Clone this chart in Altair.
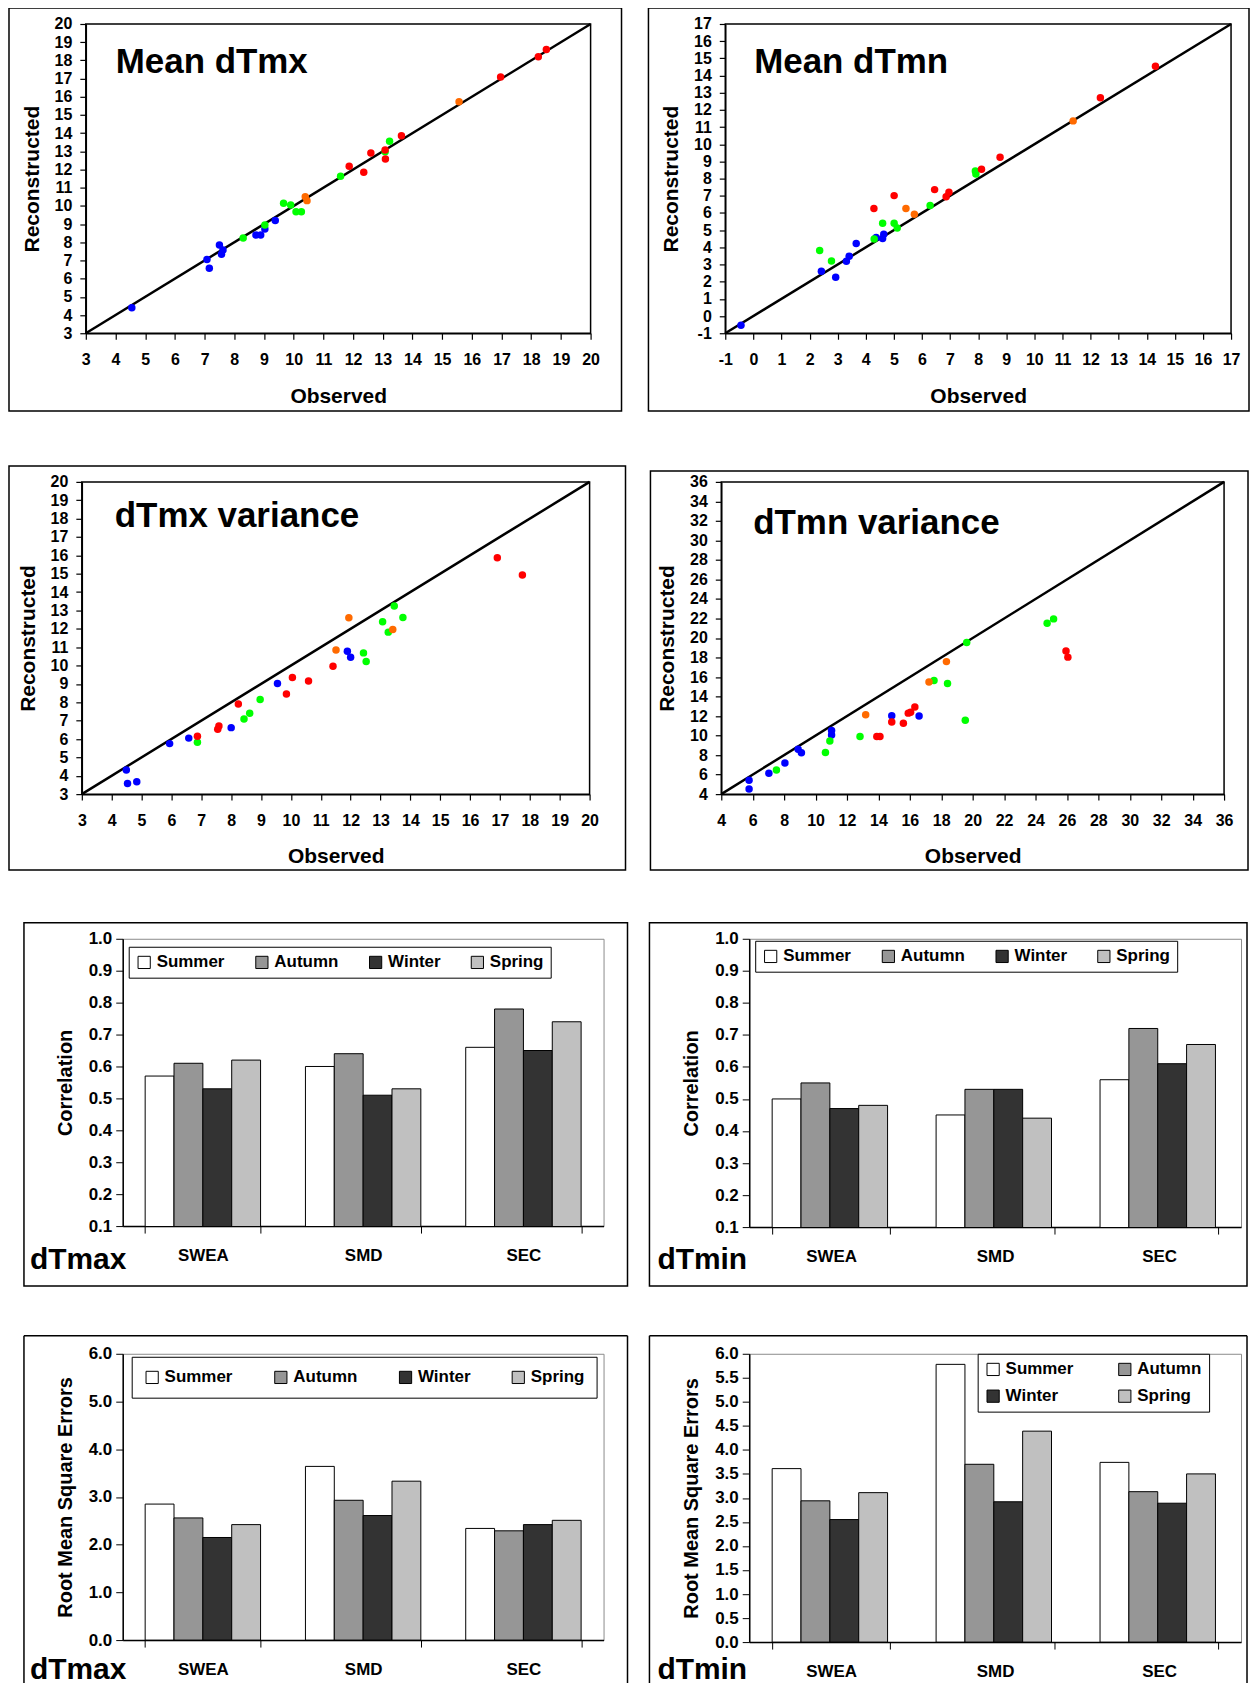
import altair as alt
import pandas as pd

FONT = "Liberation Sans"

GROUPS = ["B", "G", "O", "R"]
GROUP_COLORS = ["#0000FF", "#00FF00", "#FF6A00", "#FF0000"]

# ---------------- scatter data ----------------
# Mean dTmx
mx_obs = [4.55, 7.08, 7.16, 7.50, 7.57, 7.62, 8.73, 8.89, 9.03, 9.38,
          8.30, 9.03, 9.66, 9.90, 10.08, 10.26, 11.58, 13.08, 13.23,
          10.39, 10.45, 15.57,
          11.87, 12.36, 12.60, 13.08, 13.09, 13.63, 16.97, 18.24, 18.51]
mx_rec = [4.40, 7.05, 6.57, 7.85, 7.34, 7.58, 8.40, 8.40, 8.73, 9.20,
          8.24, 8.95, 10.14, 10.05, 9.68, 9.68, 11.63, 12.98, 13.55,
          10.51, 10.29, 15.73,
          12.18, 11.85, 12.91, 13.07, 12.58, 13.86, 17.08, 18.20, 18.60]
mx_grp = list("BBBBBBBBBBGGGGGGGGGOOORRRRRRRRR")

# Mean dTmn
mn_obs = [-0.44, 2.42, 2.93, 3.31, 3.41, 3.66, 4.37, 4.60, 4.64,
          2.36, 2.78, 4.30, 4.60, 5.01, 5.12, 6.29, 7.90, 7.92,
          5.43, 5.73, 11.38,
          4.29, 5.01, 6.45, 6.86, 6.96, 8.12, 8.78, 12.35, 14.31]
mn_rec = [-0.53, 2.61, 2.26, 3.19, 3.48, 4.22, 4.57, 4.51, 4.76,
          3.81, 3.21, 4.49, 5.40, 5.40, 5.13, 6.43, 8.45, 8.27,
          6.26, 5.93, 11.36,
          6.26, 7.01, 7.36, 6.95, 7.21, 8.55, 9.24, 12.71, 14.54]
mn_grp = list("BBBBBBBBBGGGGGGGGGOOORRRRRRRRR")

# dTmx variance
vx_obs = [4.49, 4.53, 4.84, 5.94, 6.58, 8.00, 9.55, 11.89, 12.00,
          6.87, 8.43, 8.62, 8.97, 12.43, 12.52, 13.07, 13.26, 13.46, 13.75,
          11.51, 11.94, 13.41,
          6.87, 7.55, 7.59, 8.24, 9.85, 10.05, 10.59, 11.41, 16.91, 17.75]
vx_rec = [4.31, 3.58, 3.67, 5.75, 6.05, 6.62, 9.02, 10.78, 10.45,
          5.82, 7.09, 7.40, 8.15, 10.69, 10.22, 12.38, 11.82, 13.24, 12.62,
          10.85, 12.60, 11.96,
          6.15, 6.53, 6.71, 7.91, 8.45, 9.35, 9.16, 9.96, 15.87, 14.93]
vx_grp = list("BBBBBBBBBGGGGGGGGGGOOORRRRRRRRRR")

# dTmn variance
vn_obs = [5.77, 5.77, 7.03, 8.05, 8.89, 9.10, 11.02, 11.02, 14.85, 16.59,
          7.51, 10.63, 10.91, 12.83, 17.54, 18.40, 19.53, 19.62, 24.74, 25.15,
          13.19, 17.22, 18.33,
          13.90, 14.10, 14.85, 15.59, 15.90, 16.05, 16.32, 25.94, 26.06]
vn_rec = [5.42, 4.52, 6.15, 7.20, 8.59, 8.24, 10.53, 10.05, 12.04, 12.00,
          6.47, 8.27, 9.45, 9.90, 15.64, 15.33, 11.58, 19.53, 21.51, 21.96,
          12.14, 15.50, 17.58,
          9.90, 9.90, 11.40, 11.26, 12.30, 12.40, 12.92, 18.66, 18.04]
vn_grp = list("BBBBBBBBBBGGGGGGGGGGOOORRRRRRRRR")

# ---------------- bar data ----------------
regions = ["SWEA", "SMD", "SEC"]
seasons = ["Summer", "Autumn", "Winter", "Spring"]
season_colors = ["#FFFFFF", "#969696", "#333333", "#C0C0C0"]

corr_max_summer = [0.57, 0.60, 0.66]
corr_max_autumn = [0.61, 0.64, 0.78]
corr_max_winter = [0.53, 0.51, 0.65]
corr_max_spring = [0.62, 0.53, 0.74]

corr_min_summer = [0.50, 0.45, 0.56]
corr_min_autumn = [0.55, 0.53, 0.72]
corr_min_winter = [0.47, 0.53, 0.61]
corr_min_spring = [0.48, 0.44, 0.67]

rmse_max_summer = [2.85, 3.64, 2.34]
rmse_max_autumn = [2.56, 2.93, 2.29]
rmse_max_winter = [2.15, 2.61, 2.42]
rmse_max_spring = [2.42, 3.33, 2.51]

rmse_min_summer = [3.61, 5.78, 3.74]
rmse_min_autumn = [2.94, 3.70, 3.13]
rmse_min_winter = [2.55, 2.92, 2.89]
rmse_min_spring = [3.11, 4.39, 3.50]

corr_ticks = [0.1, 0.2, 0.3, 0.4, 0.5, 0.6, 0.7, 0.8, 0.9, 1.0]
rmse_max_ticks = [0.0, 1.0, 2.0, 3.0, 4.0, 5.0, 6.0]
rmse_min_ticks = [0.0, 0.5, 1.0, 1.5, 2.0, 2.5, 3.0, 3.5, 4.0, 4.5, 5.0, 5.5, 6.0]

DUMMY = pd.DataFrame({"d": [0]})


def decorations(g, bottom_open=False):
    px, py = g["plot"][0], g["plot"][1]
    cx1, cy1, cx2, cy2 = g["cell"]
    fx1, fy1, fx2, fy2 = g["frame"]
    layers = [
        alt.Chart(DUMMY).mark_rect(fill="transparent", strokeWidth=0).encode(
            x=alt.value(cx1 - px), x2=alt.value(cx2 - px),
            y=alt.value(cy1 - py), y2=alt.value(cy2 - py))
    ]
    if bottom_open:
        bot = cy2 - py
        layers += [
            alt.Chart(DUMMY).mark_rule(color="black", strokeWidth=1.5).encode(
                x=alt.value(fx1 - px), y=alt.value(fy1 - py), y2=alt.value(bot)),
            alt.Chart(DUMMY).mark_rule(color="black", strokeWidth=1.5).encode(
                x=alt.value(fx2 - px), y=alt.value(fy1 - py), y2=alt.value(bot)),
            alt.Chart(DUMMY).mark_rule(color="black", strokeWidth=1.5).encode(
                x=alt.value(fx1 - px), x2=alt.value(fx2 - px), y=alt.value(fy1 - py)),
        ]
    else:
        layers.append(
            alt.Chart(DUMMY).mark_rect(fill="transparent", stroke="black", strokeWidth=1.5).encode(
                x=alt.value(fx1 - px), x2=alt.value(fx2 - px),
                y=alt.value(fy1 - py), y2=alt.value(fy2 - py)))
    return layers


def scatter_panel(obs, rec, grp, lo, hi, step, title, g):
    px, py, w, h = g["plot"]
    df = pd.DataFrame({"Observed": obs, "Reconstructed": rec, "grp": grp})
    ends = pd.DataFrame({"Observed": [lo, hi], "Reconstructed": [lo, hi]})
    ticks = list(range(lo, hi + 1, step))
    common = dict(grid=False, domainColor="black", domainWidth=1.5, tickColor="black",
                  tickSize=6, tickWidth=1.2, labelFont=FONT, labelFontSize=16,
                  labelFontWeight="bold", labelColor="black", labelFlush=False,
                  labelOverlap=False, titleFont=FONT, titleFontSize=21,
                  titleFontWeight="bold", titleColor="black",
                  labelExpr="'' + datum.value")
    ax_x = alt.Axis(values=ticks, title="Observed", labelPadding=12, titlePadding=18, **common)
    ax_y = alt.Axis(values=ticks, title="Reconstructed", labelPadding=8, titlePadding=12, **common)
    sx = alt.Scale(domain=[lo, hi], nice=False, zero=False)
    sy = alt.Scale(domain=[lo, hi], nice=False, zero=False)
    line = alt.Chart(ends).mark_line(color="black", strokeWidth=2.5).encode(
        x=alt.X("Observed:Q", scale=sx, axis=ax_x),
        y=alt.Y("Reconstructed:Q", scale=sy, axis=ax_y))
    pts = alt.Chart(df).mark_circle(size=56, opacity=1).encode(
        x=alt.X("Observed:Q", scale=sx, axis=ax_x),
        y=alt.Y("Reconstructed:Q", scale=sy, axis=ax_y),
        color=alt.Color("grp:N", scale=alt.Scale(domain=GROUPS, range=GROUP_COLORS), legend=None))
    txt = alt.Chart(DUMMY).mark_text(text=title, align="left", baseline="alphabetic",
                                     font=FONT, fontSize=35, fontWeight="bold",
                                     color="black").encode(
        x=alt.value(g["title"][0]), y=alt.value(g["title"][1]))
    layers = decorations(g) + [line, pts, txt]
    return alt.layer(*layers).properties(
        width=w, height=h, view=alt.ViewBackground(stroke="black", strokeWidth=1.5))


def bar_panel(summer, autumn, winter, spring, ylo, yhi, yticks, ytitle, label, leg, g, bottom_open=False):
    px, py, w, h = g["plot"]
    rows = []
    for s, vals in zip(seasons, [summer, autumn, winter, spring]):
        for r, v in zip(regions, vals):
            rows.append({"region": r, "season": s, "value": v})
    df = pd.DataFrame(rows)
    ax_x = alt.Axis(title=None, labelAngle=0, tickBand="extent", domainColor="black",
                    domainWidth=1.5, tickColor="black", tickSize=7, labelFont=FONT,
                    labelFontSize=17, labelFontWeight="bold", labelColor="black",
                    labelPadding=14)
    ax_y = alt.Axis(values=yticks, format=".1f", grid=False, title=ytitle,
                    domainColor="black", domainWidth=1.5, tickColor="black", tickSize=7,
                    labelFont=FONT, labelFontSize=17, labelFontWeight="bold",
                    labelColor="black", labelPadding=4, labelFlush=False, labelOverlap=False,
                    titleFont=FONT, titleFontSize=20, titleFontWeight="bold",
                    titleColor="black", titlePadding=13)
    legend = alt.Legend(title=None, orient="none", legendX=leg["x"], legendY=leg["y"],
                        direction="horizontal", columns=leg["columns"], symbolType="square",
                        symbolSize=150, symbolStrokeColor="black", symbolStrokeWidth=1,
                        symbolOpacity=1, labelFont=FONT, labelFontSize=17,
                        labelFontWeight="bold", labelColor="black", labelOffset=4,
                        strokeColor="black", fillColor="white", padding=leg["padding"],
                        columnPadding=leg["colpad"], rowPadding=leg["rowpad"])
    bars = alt.Chart(df).mark_bar(stroke="black", strokeWidth=1, clip=True, opacity=1).encode(
        x=alt.X("region:N", sort=regions, axis=ax_x,
                scale=alt.Scale(paddingInner=0.28, paddingOuter=0.14)),
        xOffset=alt.XOffset("season:N", sort=seasons,
                            scale=alt.Scale(paddingInner=0, paddingOuter=0)),
        y=alt.Y("value:Q", axis=ax_y,
                scale=alt.Scale(domain=[ylo, yhi], nice=False, zero=False)),
        color=alt.Color("season:N", sort=seasons,
                        scale=alt.Scale(domain=seasons, range=season_colors), legend=legend))
    txt = alt.Chart(DUMMY).mark_text(text=label, align="left", baseline="alphabetic",
                                     font=FONT, fontSize=30, fontWeight="bold",
                                     color="black").encode(
        x=alt.value(g["label"][0]), y=alt.value(g["label"][1]))
    layers = decorations(g, bottom_open) + [bars, txt]
    return alt.layer(*layers).properties(
        width=w, height=h, view=alt.ViewBackground(stroke="#8C8C8C", strokeWidth=1))


def spacer():
    return alt.Chart(DUMMY).mark_rect(opacity=0, strokeWidth=0).encode(
        x=alt.value(0), x2=alt.value(1), y=alt.value(0), y2=alt.value(1)).properties(
        width=1, height=1, view=alt.ViewBackground(stroke="transparent"))


# ---------------- layout (reference pixel frame) ----------------
G1 = dict(plot=(83, 22, 506, 310), frame=(6, 6, 620, 410), cell=(6, 6, 644, 462), title=(30, 49))
G2 = dict(plot=(721, 22, 507, 310), frame=(644, 6, 1246, 410), cell=(644, 6, 1247, 462), title=(29, 49))
G3 = dict(plot=(79, 478, 509, 313), frame=(6, 462, 624, 867), cell=(6, 461, 644, 917), title=(33, 45))
G4 = dict(plot=(718, 478, 504, 313), frame=(647, 467, 1246, 867), cell=(644, 461, 1247, 917), title=(32, 52))
G5 = dict(plot=(121, 934, 482, 288), frame=(22, 918, 627, 1282), cell=(6, 917, 644, 1329), label=(-93, 331))
G6 = dict(plot=(747, 934, 493, 289), frame=(647, 918, 1246, 1282), cell=(644, 917, 1247, 1329), label=(-92, 331))
G7 = dict(plot=(121, 1348, 482, 287), frame=(22, 1330, 627, 1678), cell=(6, 1329, 644, 1678), label=(-93, 326))
G8 = dict(plot=(747, 1348, 493, 289), frame=(647, 1330, 1246, 1678), cell=(644, 1329, 1247, 1678), label=(-92, 326))

p1 = scatter_panel(mx_obs, mx_rec, mx_grp, 3, 20, 1, "Mean dTmx", G1)
p2 = scatter_panel(mn_obs, mn_rec, mn_grp, -1, 17, 1, "Mean dTmn", G2)
p3 = scatter_panel(vx_obs, vx_rec, vx_grp, 3, 20, 1, "dTmx variance", G3)
p4 = scatter_panel(vn_obs, vn_rec, vn_grp, 4, 36, 2, "dTmn variance", G4)

leg5 = dict(x=6, y=8, columns=4, padding=7, colpad=28, rowpad=0)
leg6 = dict(x=6, y=2, columns=4, padding=7, colpad=28, rowpad=0)
leg7 = dict(x=9, y=3, columns=4, padding=12, colpad=39, rowpad=0)
leg8 = dict(x=229, y=0, columns=2, padding=7, colpad=42, rowpad=9)

p5 = bar_panel(corr_max_summer, corr_max_autumn, corr_max_winter, corr_max_spring,
               0.1, 1.0, corr_ticks, "Correlation", "dTmax", leg5, G5)
p6 = bar_panel(corr_min_summer, corr_min_autumn, corr_min_winter, corr_min_spring,
               0.1, 1.0, corr_ticks, "Correlation", "dTmin", leg6, G6)
p7 = bar_panel(rmse_max_summer, rmse_max_autumn, rmse_max_winter, rmse_max_spring,
               0.0, 6.0, rmse_max_ticks, "Root Mean Square Errors", "dTmax", leg7, G7, True)
p8 = bar_panel(rmse_min_summer, rmse_min_autumn, rmse_min_winter, rmse_min_spring,
               0.0, 6.0, rmse_min_ticks, "Root Mean Square Errors", "dTmin", leg8, G8, True)


def row(a, b):
    return alt.hconcat(a, b, spacing=0).resolve_scale(
        color="independent").resolve_legend(color="independent")


chart = alt.ConcatChart(
    concat=[spacer(), row(p1, p2), spacer(), row(p3, p4),
            spacer(), row(p5, p6), spacer(), row(p7, p8)],
    columns=2, align="none", bounds="full", spacing=0,
).resolve_scale(color="independent", x="independent", y="independent").resolve_legend(
    color="independent").properties(
    padding={"left": -4, "top": -4, "right": 0, "bottom": 0}, background="white")

chart.save("out.html", embed_options={"renderer": "svg", "actions": False})
